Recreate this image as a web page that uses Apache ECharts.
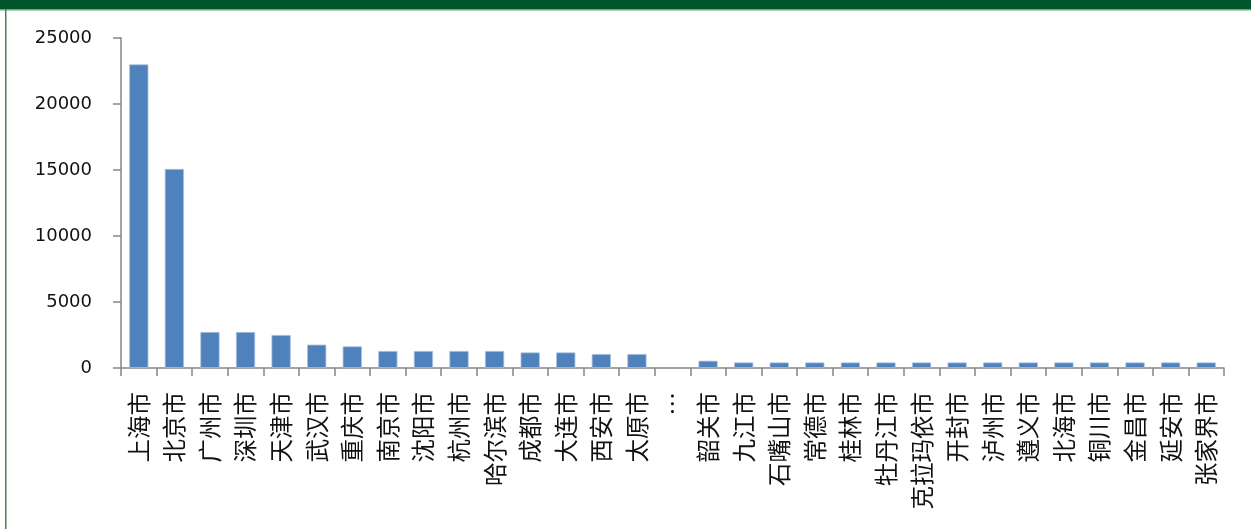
<!DOCTYPE html>
<html>
<head>
<meta charset="utf-8">
<script src="https://cdn.jsdelivr.net/npm/echarts@6/dist/echarts.min.js"></script>
<style>
html,body{margin:0;padding:0;background:#fff;}
#chart{width:1251px;height:529px;}
</style>
</head>
<body>
<div id="chart"></div>
<script>
const categories = ['上海市','北京市','广州市','深圳市','天津市','武汉市','重庆市','南京市','沈阳市','杭州市','哈尔滨市','成都市','大连市','西安市','太原市','…','韶关市','九江市','石嘴山市','常德市','桂林市','牡丹江市','克拉玛依市','开封市','泸州市','遵义市','北海市','铜川市','金昌市','延安市','张家界市'];
const values = [23000,15080,2730,2730,2500,1770,1640,1290,1290,1290,1290,1180,1180,1060,1060,null,550,420,420,420,420,420,420,420,420,420,420,420,420,420,420];
const yTicks = [0,5000,10000,15000,20000,25000];

const chart = echarts.init(document.getElementById('chart'));
chart.setOption({
  animation:false,
  backgroundColor:'#fff',
  graphic:[
    {type:'rect',shape:{x:0,y:0,width:1251,height:9},style:{fill:'#00552A'},silent:true},
    {type:'rect',shape:{x:0,y:9,width:1251,height:1.5},style:{fill:'#6FA57F'},silent:true},
    {type:'rect',shape:{x:5,y:9,width:1.5,height:520},style:{fill:'#3C8A52'},silent:true}
  ],
  grid:{left:121,right:27,top:38,bottom:161,containLabel:false},
  xAxis:{
    type:'category',
    data:categories,
    axisLine:{lineStyle:{color:'#868686',width:1.5}},
    axisTick:{show:true,length:8,lineStyle:{color:'#868686',width:1.5}},
    axisLabel:{rotate:90,interval:0,margin:24,color:'#111',fontSize:23.5,fontFamily:'Noto Sans CJK SC'}
  },
  yAxis:{
    type:'value',
    min:yTicks[0],max:yTicks[yTicks.length-1],interval:5000,
    splitLine:{show:false},
    axisLine:{show:true,lineStyle:{color:'#868686',width:1.5}},
    axisTick:{show:true,length:8,lineStyle:{color:'#868686',width:1.5}},
    axisLabel:{margin:29,color:'#111',fontSize:18,fontFamily:'DejaVu Sans',formatter:function(v){return String(v);}}
  },
  series:[{
    type:'bar',
    data:values,
    barCategoryGap:'46%',
    itemStyle:{color:'#4F81BD',borderColor:'#A9C1DE',borderWidth:0.8}
  }]
});
</script>
</body>
</html>
